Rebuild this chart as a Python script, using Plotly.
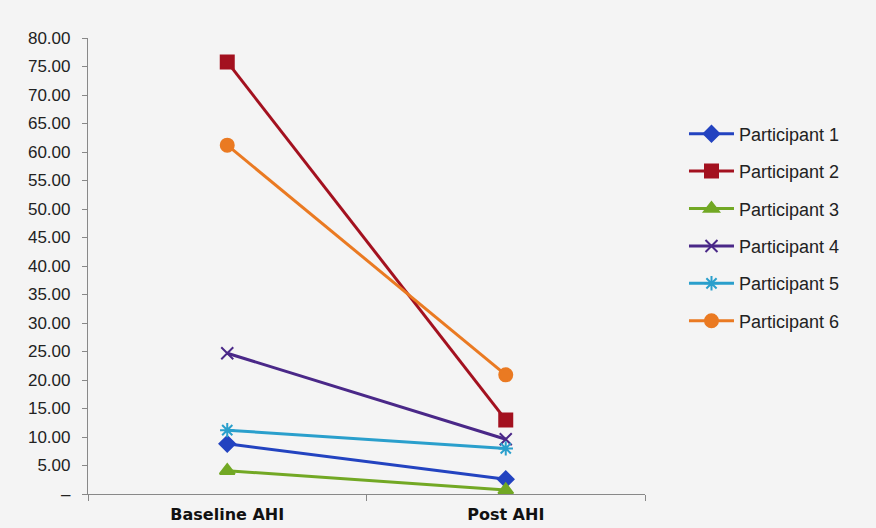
import plotly.graph_objects as go

categories = ["Baseline AHI", "Post AHI"]
participants = ["Participant 1", "Participant 2", "Participant 3",
                "Participant 4", "Participant 5", "Participant 6"]
p1 = [8.8, 2.6]
p2 = [75.8, 13.0]
p3 = [4.1, 0.7]
p4 = [24.7, 9.6]
p5 = [11.2, 8.0]
p6 = [61.2, 20.9]
series = [p1, p2, p3, p4, p5, p6]
tick_vals = [0, 5, 10, 15, 20, 25, 30, 35, 40, 45, 50, 55, 60, 65, 70, 75, 80]
tick_text = ["–", "5.00", "10.00", "15.00", "20.00", "25.00", "30.00", "35.00",
             "40.00", "45.00", "50.00", "55.00", "60.00", "65.00", "70.00",
             "75.00", "80.00"]

colors = ["#2343c0", "#a3111f", "#72a824", "#4a2888", "#2a9fcc", "#ea7a22"]
symbols = ["diamond", "square", "triangle-up", "x-thin-open", "asterisk-open", "circle"]
sizes = [12, 13, 13, 12, 12, 13]

fig = go.Figure()
for name, vals, c, s, sz in zip(participants, series, colors, symbols, sizes):
    fig.add_trace(go.Scatter(
        x=categories, y=vals, name=name, mode="lines+markers",
        line=dict(color=c, width=3),
        marker=dict(symbol=s, size=sz, color=c, line=dict(color=c, width=2)),
        legendgroup=name,
    ))

fig.update_layout(
    width=876, height=528,
    paper_bgcolor="#f4f4f4", plot_bgcolor="#f4f4f4",
    margin=dict(l=88, r=231, t=38, b=34, autoexpand=False),
    font=dict(family="Liberation Sans, Arial, sans-serif", color="#222222", size=16),
    showlegend=True,
    legend=dict(x=1.07, y=0.83, xanchor="left", yanchor="top",
                bgcolor="rgba(0,0,0,0)", font=dict(size=18),
                tracegroupgap=11, itemwidth=45),
    xaxis=dict(
        type="category", range=[-0.5, 1.5], automargin=False,
        showline=True, linecolor="#888888", linewidth=1.2,
        ticks="outside", tickson="boundaries", ticklen=6, tickcolor="#888888",
        showgrid=False, zeroline=False, ticklabelstandoff=6,
        tickfont=dict(family="DejaVu Sans, sans-serif", size=16, color="#111111", weight="bold"),
    ),
    yaxis=dict(
        range=[0, 80], tickvals=tick_vals, ticktext=tick_text, automargin=False,
        showline=True, linecolor="#888888", linewidth=1.2,
        ticks="outside", ticklen=5, tickcolor="#888888",
        showgrid=False, zeroline=False, ticklabelstandoff=8,
        tickfont=dict(size=17, color="#222222"),
    ),
)

fig.write_html("out.html", config={"displayModeBar": False},
               post_script="document.body.style.margin='0px';document.body.style.background='#f4f4f4';")
